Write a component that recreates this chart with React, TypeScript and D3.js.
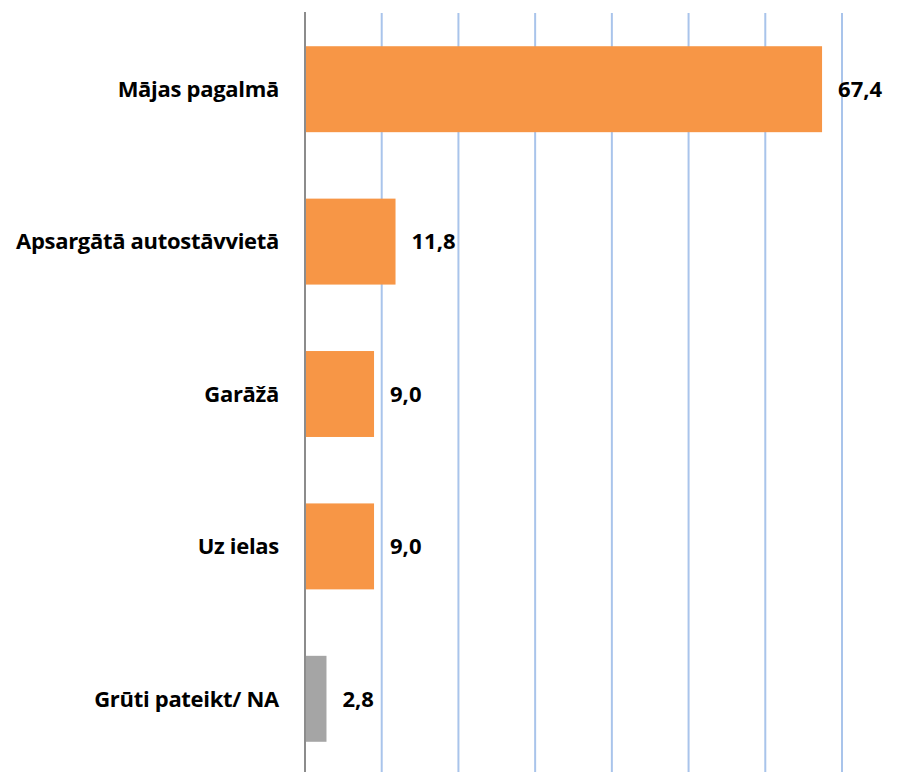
import React from 'react';
import * as d3 from 'd3';

const categories = ['Mājas pagalmā', 'Apsargātā autostāvvietā', 'Garāžā', 'Uz ielas', 'Grūti pateikt/ NA'];
const values = [67.4, 11.8, 9.0, 9.0, 2.8];
const barColors = ['#f79646', '#f79646', '#f79646', '#f79646', '#a5a5a5'];
const gridTicks = [10, 20, 30, 40, 50, 60, 70];

const W = 907;
const H = 772;

const App: React.FC = () => {
  const x = d3.scaleLinear().domain([0, 70]).range([305, 842]);
  const y = d3.scaleBand<string>()
    .domain(categories)
    .range([13, 775])
    .paddingInner(0.436)
    .paddingOuter(0.218);

  const fmt = (v: number) => v.toFixed(1).replace('.', ',');
  const font = "'Open Sans', 'Noto Sans', sans-serif";

  return (
    <svg width={W} height={H} style={{ position: 'absolute', left: 0, top: 0, background: '#fff' }}>
      {/* gridlines */}
      {gridTicks.map(t => (
        <line key={t} x1={x(t)} x2={x(t)} y1={13} y2={H} stroke="#a9c4eb" strokeWidth={2} />
      ))}
      {/* bars */}
      {categories.map((c, i) => (
        <rect key={c} x={x(0)} y={y(c)!} width={x(values[i]) - x(0)} height={y.bandwidth()} fill={barColors[i]} />
      ))}
      {/* axis */}
      <line x1={x(0)} x2={x(0)} y1={12} y2={H} stroke="#8c8c8c" strokeWidth={2} />
      {/* category labels */}
      {categories.map(c => (
        <text key={c} x={279} y={y(c)! + y.bandwidth() / 2} dy="0.35em" textAnchor="end"
          fontFamily={font} fontWeight="bold" fontSize={22} letterSpacing={-0.3} fill="#000">{c}</text>
      ))}
      {/* value labels */}
      {categories.map((c, i) => (
        <text key={c} x={x(values[i]) + 16} y={y(c)! + y.bandwidth() / 2} dy="0.35em"
          fontFamily={font} fontWeight="bold" fontSize={22} fill="#000">{fmt(values[i])}</text>
      ))}
    </svg>
  );
};

export default App;
